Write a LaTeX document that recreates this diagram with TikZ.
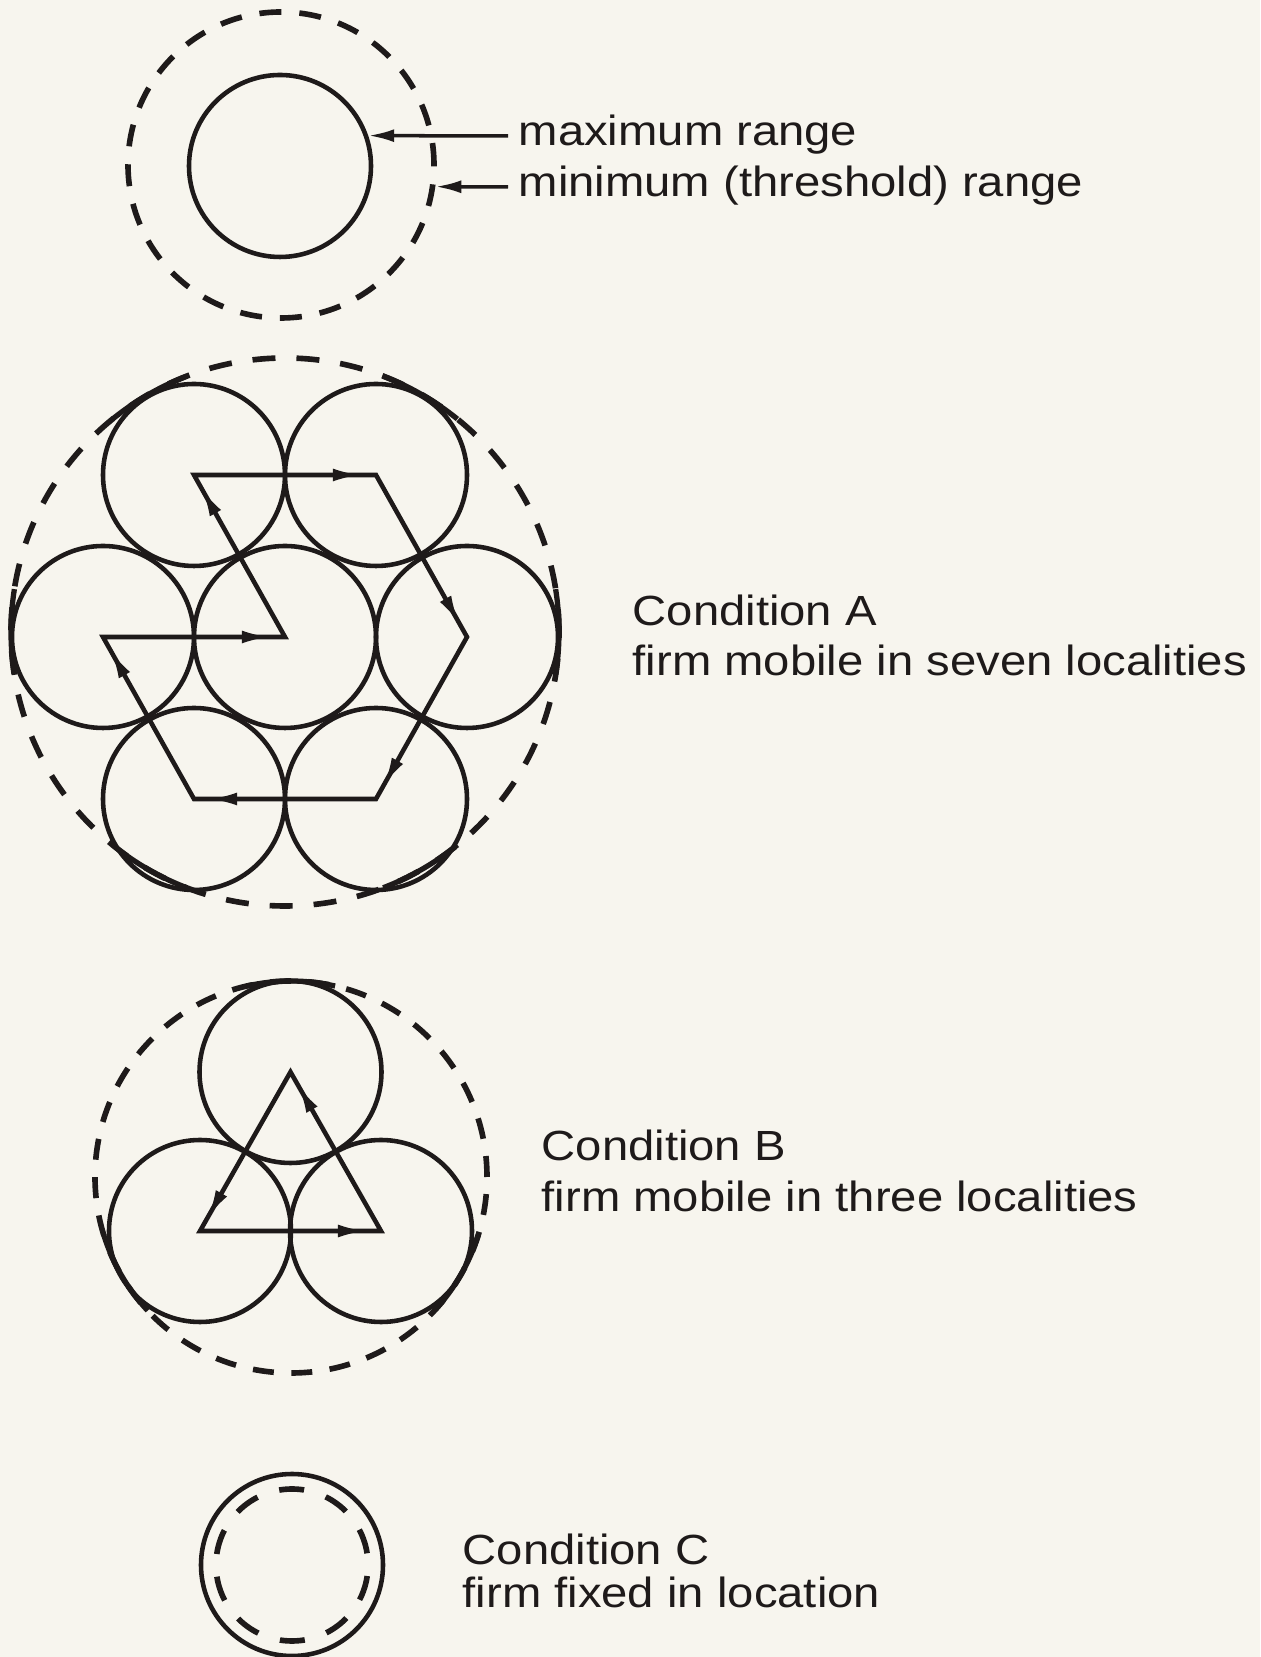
\documentclass[tikz,border=0pt]{standalone}
\usepackage{fontspec}
\setmainfont{Liberation Sans}[FakeStretch=1.12]
\usepackage{tikz}
\usetikzlibrary{arrows.meta,calc,decorations.markings,positioning}
\definecolor{ink}{HTML}{1E1A1A}
\definecolor{paper}{HTML}{F7F5EE}

\begin{document}
\begin{tikzpicture}[
  zone/.style={circle,draw=ink,line width=1.3pt,minimum size=1.82cm,inner sep=0pt},
  reach/.style={circle,draw=ink,line width=1.6pt,inner sep=0pt},
  txt/.style={anchor=base west,inner sep=0pt,text=ink,font=\fontsize{12}{14}\selectfont},
  pointer/.style={draw=ink,line width=1pt,-{Latex[length=2.6mm,width=1.3mm]}},
  tipmark/.style={color=ink,postaction={decorate},decoration={markings,
      mark=at position 0.9 with {\arrow{Latex[length=2.5mm,width=1.3mm]}}}},
  ]
  \fill[paper] (0,0) rectangle (12.6,16.57);
  \useasboundingbox (0,0) rectangle (12.6,16.57);

  % ranges
  \node[zone] (maxr) at (2.80,14.91) {};
  \node[reach,minimum size=3.06cm,dash pattern=on 0.22cm off 0.18cm] (minr) at (2.81,14.92) {};
  \node[txt] (maxlab) at (5.18,15.11) {maximum range};
  \node[txt] (minlab) at (5.18,14.60) {minimum (threshold) range};
  \draw[pointer] ([xshift=-1mm,yshift=1mm]maxlab.base west) -- (maxr.19);
  \draw[pointer] ([xshift=-1mm,yshift=1mm]minlab.base west) -- (minr.-8);

  % condition A
  \node[zone] (ac) at (2.85,10.20) {};
  \node[zone] (al) at (1.03,10.20) {};
  \node[zone] (ar) at (4.67,10.20) {};
  \node[zone] (atl) at (1.94,11.82) {};
  \node[zone] (atr) at (3.76,11.82) {};
  \node[zone] (abl) at (1.94,8.58) {};
  \node[zone] (abr) at (3.76,8.58) {};
  \node[reach,minimum size=5.48cm,dash pattern=on 0.23cm off 0.21cm] (aout) at (2.85,10.25) {};
  \foreach \t in {0,60,...,300}
    \draw[ink,line width=1.5pt] ($(aout.center)+(\t-9:2.74)$) arc[start angle=\t-9,end angle=\t+9,radius=2.74];
  \draw[ink,line width=1.3pt,line join=miter] (al.center) -- (ac.center) -- (atl.center) -- (atr.center)
    -- (ar.center) -- (abr.center) -- (abl.center) -- cycle;
  \foreach \a/\b in {al/ac,ac/atl,atl/atr,atr/ar,ar/abr,abr/abl,abl/al}
    \path[tipmark] (\a.center) -- (\b.center);
  \node[txt] (alab) at (6.32,10.31) {Condition A};
  \node[txt] (alab2) at (6.32,9.81) {firm mobile in seven localities};

  % condition B
  \node[zone] (bt) at (2.905,5.85) {};
  \node[zone] (bl) at (2.00,4.26) {};
  \node[zone] (br) at (3.81,4.26) {};
  \node[reach,minimum size=3.92cm,dash pattern=on 0.21cm off 0.175cm] (bout) at (2.91,4.80) {};
  \foreach \t in {90,210,330}
    \draw[ink,line width=1.5pt] ($(bout.center)+(\t-13:1.96)$) arc[start angle=\t-13,end angle=\t+13,radius=1.96];
  \draw[ink,line width=1.3pt,line join=miter] (bt.center) -- (bl.center) -- (br.center) -- cycle;
  \foreach \a/\b in {bt/bl,bl/br,br/bt}
    \path[tipmark] (\a.center) -- (\b.center);
  \node[txt] (blab) at (5.41,4.96) {Condition B};
  \node[txt] (blab2) at (5.41,4.45) {firm mobile in three localities};

  % condition C
  \node[zone] (cfix) at (2.92,0.92) {};
  \node[reach,minimum size=1.52cm,dash pattern=on 0.25cm off 0.2275cm,dash phase=0.36cm] (cin) at (2.92,0.92) {};
  \node[txt] (clab) at (4.62,0.92) {Condition C};
  \node[txt] (clab2) at (4.62,0.49) {firm fixed in location};
\end{tikzpicture}
\end{document}
